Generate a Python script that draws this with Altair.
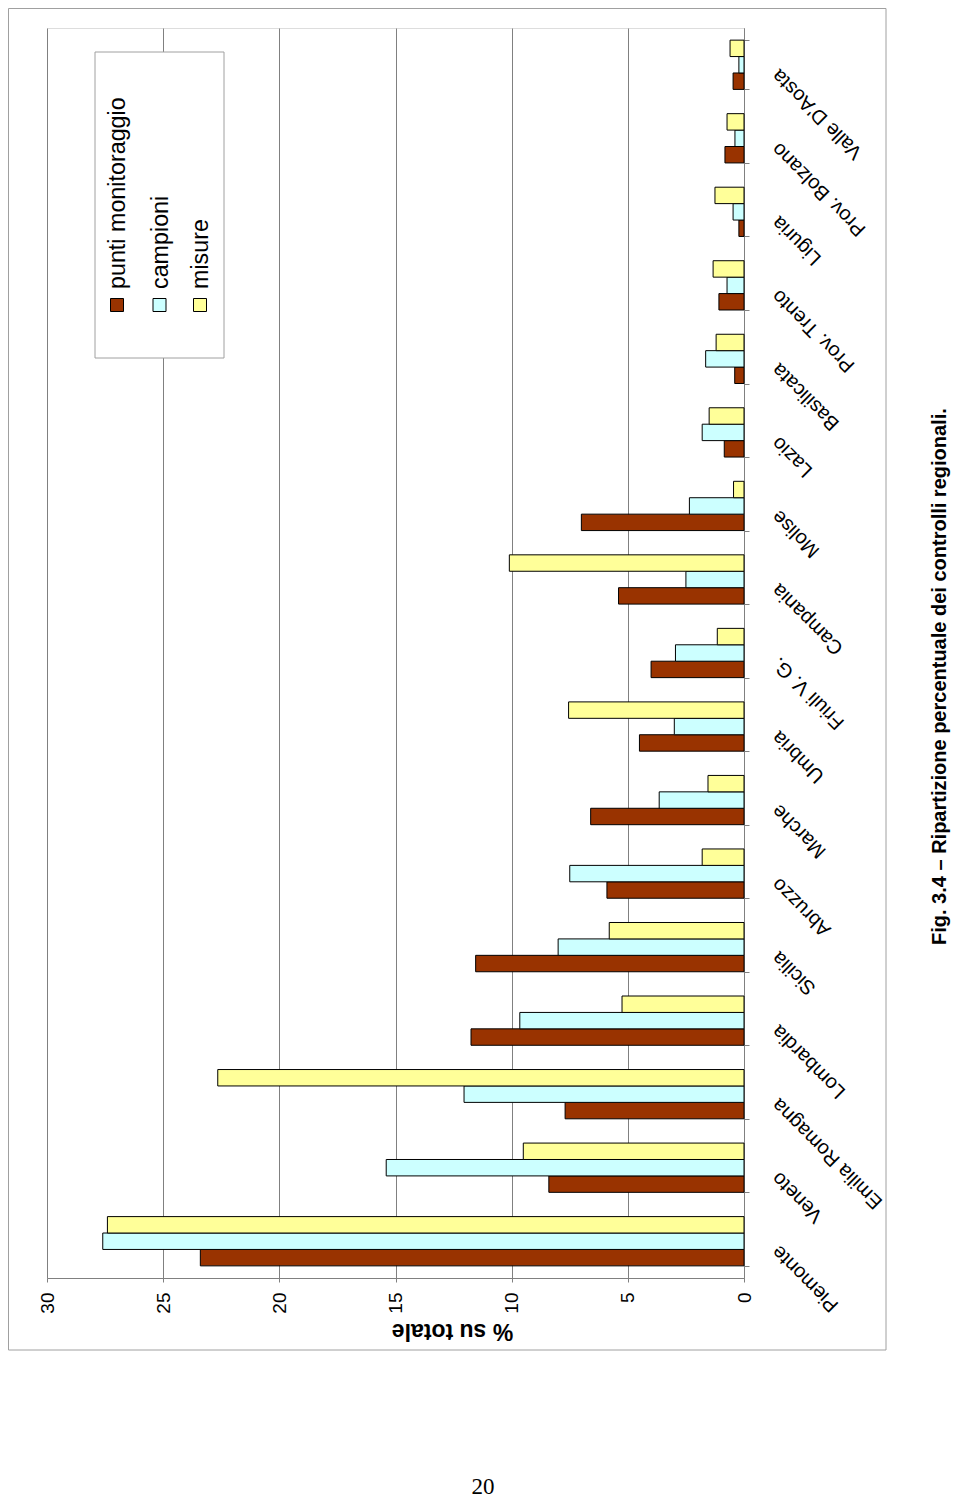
import altair as alt
import pandas as pd

regions = ["Piemonte", "Veneto", "Emilia Romagna", "Lombardia", "Sicilia", "Abruzzo",
           "Marche", "Umbria", "Friuli V. G.", "Campania", "Molise", "Lazio",
           "Basilicata", "Prov. Trento", "Liguria", "Prov. Bolzano", "Valle D'Aosta"]
punti = [23.4, 8.4, 7.7, 11.75, 11.55, 5.9, 6.6, 4.5, 4.0, 5.4, 7.0, 0.85, 0.4, 1.08, 0.22, 0.82, 0.47]
campioni = [27.6, 15.4, 12.05, 9.65, 8.0, 7.5, 3.65, 3.0, 2.95, 2.5, 2.35, 1.8, 1.65, 0.73, 0.47, 0.39, 0.22]
misure = [27.4, 9.5, 22.65, 5.25, 5.8, 1.8, 1.55, 7.55, 1.15, 10.1, 0.45, 1.5, 1.2, 1.33, 1.25, 0.73, 0.6]
series = ["punti monitoraggio", "campioni", "misure"]
colors = ["#993300", "#CCFFFF", "#FFFF99"]
ticks_x = [0, 5, 10, 15, 20, 25, 30]
axis_title = "% su totale"
caption = "Fig. 3.4 – Ripartizione percentuale dei controlli regionali."
page_no = "20"

rows = []
for i, r in enumerate(regions):
    for s, vals in zip(series, [punti, campioni, misure]):
        rows.append({"region": r, "serie": s, "value": vals[i]})
df = pd.DataFrame(rows)

FONT = "Liberation Sans"
W, H = 697, 1250

bars = alt.Chart(df).mark_bar(stroke="black", strokeWidth=1).encode(
    x=alt.X("value:Q",
            scale=alt.Scale(domain=[0, 30], reverse=True, nice=False),
            axis=alt.Axis(values=ticks_x, orient="bottom", labelAngle=270,
                          labelAlign="right", labelBaseline="middle",
                          labelFont=FONT, labelFontSize=19, labelColor="black",
                          labelPadding=10, tickSize=4, tickColor="#808080",
                          domainColor="#808080", grid=True, gridColor="#808080",
                          gridWidth=1, title=axis_title, titleAngle=180,
                          titleFont=FONT, titleFontSize=23, titleFontWeight="bold",
                          titleColor="black", titleX=405, titleY=52,
                          titleAlign="center", titleBaseline="middle")),
    y=alt.Y("region:N", sort=regions[::-1],
            scale=alt.Scale(paddingInner=0.33, paddingOuter=0.165),
            axis=alt.Axis(orient="right", labelAngle=225, labelAlign="right",
                          labelBaseline="middle", labelFont=FONT, labelFontSize=20,
                          labelColor="black", labelPadding=26, labelOffset=7,
                          tickBand="extent",
                          tickSize=5, tickColor="#808080", domainColor="#808080",
                          grid=False, title=None)),
    yOffset=alt.YOffset("serie:N", scale=alt.Scale(domain=series[::-1], paddingInner=0)),
    color=alt.Color("serie:N", scale=alt.Scale(domain=series, range=colors), legend=None),
)

one = pd.DataFrame({"k": [0]})

border = alt.Chart(one).mark_rect(fill=None, stroke="#a0a0a0", strokeWidth=1).encode(
    x=alt.value(-38.5), x2=alt.value(839), y=alt.value(-19.5), y2=alt.value(1322))

leg_box = alt.Chart(one).mark_rect(fill="white", stroke="#a0a0a0", strokeWidth=1).encode(
    x=alt.value(48), x2=alt.value(177), y=alt.value(24), y2=alt.value(330))

layers = [border, bars, leg_box]
sw_x = [70, 112.5, 153]
for s, c, sx in zip(series, colors, sw_x):
    layers.append(alt.Chart(pd.DataFrame({"serie": [s]})).mark_rect(
        fill=c, stroke="black", strokeWidth=1).encode(
        x=alt.value(sx - 6.5), x2=alt.value(sx + 6.5), y=alt.value(270.5), y2=alt.value(283.5)))
    layers.append(alt.Chart(pd.DataFrame({"serie": [s]})).mark_text(
        angle=270, align="left", baseline="alphabetic", font=FONT, fontSize=23.3,
        color="black").encode(
        text="serie:N", x=alt.value(sx + 8), y=alt.value(261)))

layers.append(alt.Chart(pd.DataFrame({"t": [caption]})).mark_text(
    angle=270, align="left", baseline="alphabetic", font=FONT, fontSize=20,
    fontWeight="bold", color="black").encode(
    text="t:N", x=alt.value(899), y=alt.value(917)))

layers.append(alt.Chart(pd.DataFrame({"t": [page_no]})).mark_text(
    align="center", baseline="alphabetic", font="Liberation Serif", fontSize=23,
    color="black").encode(
    text="t:N", x=alt.value(436), y=alt.value(1466)))

chart = alt.layer(*layers).properties(
    width=W, height=H,
    autosize=alt.AutoSizeParams(type="none"),
    padding={"left": 39, "top": 20, "right": 208, "bottom": 222},
).configure_view(fill="#cccccc", stroke=None).configure(background="white")

chart.save("out.html", embed_options={"renderer": "svg", "actions": False})
